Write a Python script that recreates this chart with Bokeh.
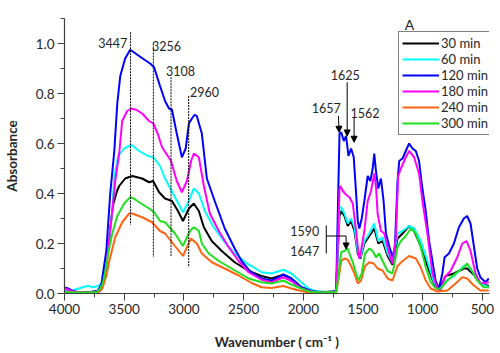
from bokeh.plotting import figure
from bokeh.models import (Range1d, FixedTicker, PrintfTickFormatter, Legend,
                          LegendItem, Label, Arrow, NormalHead)
from bokeh.embed import file_html
from bokeh.resources import INLINE

# ---------------- data ----------------
series_names = ["30 min", "60 min", "120 min", "180 min", "240 min", "300 min"]
series_colors = ["#000000", "#00FFFF", "#0000FF", "#FF00FF", "#FF6412", "#1EE01E"]

wn_30 = [4000, 3900, 3800, 3720, 3690, 3660, 3630, 3600, 3590, 3560, 3542, 3492, 3433,
         3350, 3292, 3258, 3208, 3158, 3100, 3050, 3008, 2958, 2917, 2875, 2833, 2767,
         2683, 2575, 2458, 2350, 2267, 2167, 2100, 2017, 1933, 1850, 1725, 1711, 1697,
         1683, 1656, 1628, 1600, 1572, 1544, 1522, 1489, 1447, 1406, 1372, 1336, 1294,
         1253, 1211, 1169, 1114, 1072, 1017, 961, 906, 864, 808, 739, 656, 628, 572,
         517, 447]
ab_30 = [0.008, 0.005, 0.005, 0.01, 0.03, 0.08, 0.2, 0.33, 0.36, 0.41, 0.43, 0.46, 0.47,
         0.46, 0.445, 0.45, 0.405, 0.38, 0.37, 0.33, 0.29, 0.34, 0.36, 0.33, 0.265, 0.21,
         0.17, 0.125, 0.09, 0.07, 0.06, 0.075, 0.06, 0.025, 0.008, 0.004, 0.01, 0.17, 0.31,
         0.33, 0.31, 0.27, 0.29, 0.25, 0.16, 0.14, 0.20, 0.23, 0.26, 0.20, 0.21, 0.15,
         0.115, 0.22, 0.24, 0.27, 0.25, 0.19, 0.11, 0.04, 0.015, 0.07, 0.08, 0.10, 0.10,
         0.075, 0.04, 0.03]

wn_60 = [4000, 3950, 3880, 3830, 3800, 3760, 3720, 3690, 3660, 3630, 3600, 3583, 3550,
         3500, 3440, 3375, 3300, 3256, 3200, 3158, 3075, 3008, 2960, 2917, 2875, 2825,
         2750, 2667, 2575, 2458, 2433, 2350, 2267, 2167, 2100, 2017, 1958, 1900, 1800,
         1725, 1711, 1697, 1683, 1656, 1628, 1600, 1572, 1544, 1522, 1489, 1447, 1406,
         1372, 1336, 1294, 1253, 1211, 1169, 1114, 1072, 1017, 961, 906, 864, 808, 739,
         656, 628, 572, 517, 447]
ab_60 = [0.012, 0.01, 0.02, 0.028, 0.03, 0.025, 0.03, 0.04, 0.08, 0.2, 0.33, 0.47, 0.55,
         0.58, 0.595, 0.57, 0.55, 0.545, 0.51, 0.46, 0.385, 0.325, 0.37, 0.42, 0.40, 0.33,
         0.265, 0.21, 0.16, 0.115, 0.11, 0.085, 0.08, 0.095, 0.08, 0.045, 0.02, 0.01, 0.006,
         0.01, 0.18, 0.345, 0.345, 0.32, 0.28, 0.30, 0.265, 0.17, 0.145, 0.21, 0.24, 0.28,
         0.21, 0.225, 0.16, 0.125, 0.24, 0.25, 0.27, 0.26, 0.21, 0.13, 0.045, 0.015, 0.05,
         0.07, 0.11, 0.115, 0.08, 0.04, 0.025]

wn_120 = [4000, 3970, 3930, 3880, 3800, 3720, 3690, 3650, 3617, 3583, 3558, 3533, 3492,
          3450, 3420, 3375, 3330, 3283, 3250, 3200, 3158, 3125, 3100, 3060, 3017, 2985,
          2958, 2933, 2910, 2892, 2850, 2808, 2742, 2658, 2575, 2517, 2458, 2433, 2350,
          2267, 2210, 2167, 2100, 2017, 1933, 1850, 1760, 1725, 1711, 1697, 1683, 1661,
          1642, 1622, 1600, 1578, 1558, 1544, 1531, 1511, 1489, 1461, 1439, 1419, 1406,
          1392, 1372, 1350, 1328, 1308, 1281, 1253, 1233, 1211, 1197, 1169, 1142, 1114,
          1086, 1058, 1031, 1003, 975, 947, 919, 892, 864, 836, 817, 781, 739, 697, 656,
          628, 600, 572, 544, 517, 475, 447]
ab_120 = [0.024, 0.02, 0.01, 0.005, 0.004, 0.01, 0.04, 0.17, 0.40, 0.57, 0.76, 0.87, 0.94,
          0.975, 0.965, 0.95, 0.935, 0.92, 0.905, 0.83, 0.77, 0.74, 0.735, 0.64, 0.545, 0.58,
          0.68, 0.70, 0.715, 0.71, 0.64, 0.46, 0.37, 0.26, 0.18, 0.13, 0.095, 0.085, 0.06,
          0.052, 0.065, 0.076, 0.06, 0.025, 0.01, 0.005, 0.005, 0.012, 0.33, 0.64, 0.645, 0.61,
          0.63, 0.55, 0.58, 0.545, 0.40, 0.29, 0.26, 0.30, 0.37, 0.47, 0.45, 0.50, 0.56,
          0.49, 0.42, 0.46, 0.37, 0.24, 0.19, 0.145, 0.19, 0.45, 0.53, 0.54, 0.57, 0.60,
          0.58, 0.57, 0.53, 0.42, 0.33, 0.21, 0.13, 0.05, 0.02, 0.08, 0.145, 0.16, 0.20, 0.265,
          0.30, 0.31, 0.28, 0.19, 0.10, 0.065, 0.045, 0.06]

wn_180 = [4000, 3970, 3930, 3850, 3750, 3700, 3660, 3630, 3600, 3575, 3542, 3517, 3475,
          3440, 3400, 3350, 3292, 3256, 3220, 3183, 3108, 3060, 3017, 2975, 2940, 2917,
          2875, 2833, 2783, 2708, 2625, 2542, 2458, 2350, 2267, 2167, 2100, 2017, 1933,
          1850, 1760, 1725, 1711, 1697, 1690, 1669, 1642, 1614, 1586, 1558, 1533, 1517,
          1489, 1461, 1433, 1406, 1392, 1378, 1350, 1322, 1281, 1253, 1225, 1206, 1183,
          1142, 1114, 1072, 1031, 1003, 961, 919, 878, 850, 817, 767, 711, 669, 633, 600,
          558, 517, 447]
ab_180 = [0.02, 0.015, 0.008, 0.004, 0.005, 0.01, 0.06, 0.2, 0.33, 0.45, 0.56, 0.69, 0.73,
          0.74, 0.735, 0.72, 0.69, 0.68, 0.64, 0.585, 0.53, 0.45, 0.405, 0.45, 0.53, 0.56,
          0.545, 0.43, 0.32, 0.25, 0.185, 0.13, 0.085, 0.055, 0.045, 0.065, 0.05, 0.02, 0.008,
          0.004, 0.004, 0.01, 0.2, 0.42, 0.43, 0.41, 0.395, 0.385, 0.36, 0.25, 0.14, 0.17,
          0.25, 0.37, 0.41, 0.48, 0.43, 0.32, 0.25, 0.24, 0.16, 0.12, 0.225, 0.47, 0.50,
          0.545, 0.57, 0.545, 0.48, 0.37, 0.24, 0.08, 0.02, 0.012, 0.065, 0.09, 0.145, 0.20,
          0.21, 0.17, 0.08, 0.04, 0.045]

wn_240 = [4000, 3800, 3720, 3683, 3650, 3625, 3575, 3517, 3458, 3433, 3350, 3267, 3200,
          3158, 3075, 3008, 2942, 2892, 2850, 2767, 2658, 2542, 2433, 2350, 2267, 2167,
          2100, 2017, 1950, 1850, 1725, 1704, 1683, 1656, 1628, 1600, 1572, 1544, 1517,
          1483, 1447, 1411, 1378, 1336, 1294, 1253, 1211, 1169, 1114, 1058, 1017, 975, 933,
          878, 794, 725, 669, 628, 572, 517, 447]
ab_240 = [0.004, 0.003, 0.004, 0.02, 0.07, 0.13, 0.225, 0.285, 0.32, 0.32, 0.305, 0.285,
          0.25, 0.24, 0.19, 0.15, 0.22, 0.20, 0.16, 0.125, 0.10, 0.072, 0.042, 0.025, 0.022,
          0.03, 0.02, 0.01, 0.004, 0.003, 0.004, 0.06, 0.13, 0.14, 0.135, 0.11, 0.08, 0.04,
          0.052, 0.11, 0.125, 0.12, 0.10, 0.092, 0.06, 0.052, 0.11, 0.13, 0.15, 0.14, 0.105,
          0.052, 0.02, 0.008, 0.012, 0.04, 0.065, 0.06, 0.032, 0.012, 0.012]

wn_300 = [4000, 3900, 3800, 3730, 3708, 3680, 3658, 3630, 3600, 3558, 3500, 3450, 3420,
          3375, 3292, 3250, 3200, 3158, 3075, 3008, 2950, 2917, 2875, 2850, 2792, 2708,
          2600, 2458, 2350, 2267, 2167, 2100, 2017, 1950, 1850, 1725, 1704, 1683, 1656,
          1628, 1614, 1586, 1558, 1539, 1511, 1483, 1447, 1419, 1392, 1364, 1336, 1294,
          1253, 1211, 1183, 1142, 1100, 1058, 1017, 975, 933, 892, 850, 794, 725, 656, 628,
          586, 544, 489, 447]
ab_300 = [0.005, 0.004, 0.004, 0.006, 0.015, 0.04, 0.09, 0.17, 0.24, 0.31, 0.36, 0.385,
          0.38, 0.365, 0.34, 0.325, 0.29, 0.285, 0.24, 0.19, 0.25, 0.265, 0.25, 0.20, 0.16,
          0.13, 0.10, 0.06, 0.045, 0.04, 0.052, 0.036, 0.02, 0.008, 0.004, 0.006, 0.08,
          0.165, 0.17, 0.18, 0.16, 0.125, 0.08, 0.052, 0.08, 0.16, 0.18, 0.17, 0.145, 0.16,
          0.13, 0.09, 0.08, 0.185, 0.21, 0.23, 0.26, 0.24, 0.185, 0.105, 0.045, 0.02, 0.02,
          0.052, 0.08, 0.105, 0.12, 0.09, 0.052, 0.025, 0.025]

x_ticks = [4000, 3500, 3000, 2500, 2000, 1500, 1000, 500]
y_ticks = [0.0, 0.2, 0.4, 0.6, 0.8, 1.0]

# peak markers with vertical dotted lines
peak_wn = [3447, 3256, 3108, 2960]
peak_top = [1.045, 1.0, 0.865, 0.79]
peak_bot = [0.275, 0.145, 0.15, 0.105]

FONT = "Lato"
TXT = "#262626"

p = figure(width=500, height=353, output_backend="svg", toolbar_location=None,
           x_range=Range1d(4000, 441), y_range=Range1d(0, 1.1),
           min_border_left=62, min_border_right=11, min_border_top=18,
           min_border_bottom=60)
p.xgrid.visible = False
p.ygrid.visible = False
p.outline_line_color = None
p.background_fill_color = "white"

wns = [wn_30, wn_60, wn_120, wn_180, wn_240, wn_300]
abs_ = [ab_30, ab_60, ab_120, ab_180, ab_240, ab_300]
renderers = []
for wn, ab, col in zip(wns, abs_, series_colors):
    r = p.line(wn, ab, line_color=col, line_width=2)
    renderers.append(r)

# dotted peak lines
p.segment(x0=peak_wn, y0=peak_top, x1=peak_wn, y1=peak_bot,
          line_color="black", line_width=1, line_dash="2 1")

def lab(x, y, t, align="left"):
    p.add_layout(Label(x=x, y=y, text=t, text_font=FONT, text_font_size="12.5px",
                       text_color=TXT, text_align=align, text_baseline="middle"))

lab(3475, 1.004, str(peak_wn[0]), "right")
lab(3267, 0.992, str(peak_wn[1]))
lab(3150, 0.892, str(peak_wn[2]))
lab(2950, 0.808, str(peak_wn[3]))

# arrow annotations
lab(1650, 0.876, "1625", "center")
lab(1808, 0.744, "1657", "center")
lab(1483, 0.724, "1562", "center")
lab(1867, 0.252, "1590", "right")
lab(1867, 0.172, "1647", "right")

def arr(x0, y0, x1, y1):
    p.add_layout(Arrow(end=NormalHead(size=6, fill_color="black", line_color="black"),
                       x_start=x0, y_start=y0, x_end=x1, y_end=y1,
                       line_color="black", line_width=1))

arr(1706, 0.71, 1700, 0.645)
arr(1633, 0.845, 1633, 0.63)
arr(1575, 0.705, 1575, 0.605)
arr(1642, 0.23, 1642, 0.178)
p.segment(x0=[1808, 1808], y0=[0.272, 0.23], x1=[1808, 1642], y1=[0.16, 0.23],
          line_color="black", line_width=1)

p.add_layout(Label(x=1150, y=1.076, text="A", text_font=FONT, text_font_size="14px",
                   text_color=TXT, text_align="left", text_baseline="middle"))

# axes
xa = p.xaxis[0]
xa.ticker = FixedTicker(ticks=x_ticks, minor_ticks=[3750, 3250, 2750, 2250, 1750, 1250, 750])
xa.axis_label = "Wavenumber ( cm\u207b\u00b9 )"
ya = p.yaxis[0]
ya.ticker = FixedTicker(ticks=y_ticks, minor_ticks=[0.1, 0.3, 0.5, 0.7, 0.9, 1.1])
ya.formatter = PrintfTickFormatter(format="%.1f")
ya.axis_label = "Absorbance"
for ax in (xa, ya):
    ax.axis_line_color = "#404040"
    ax.axis_line_width = 1.2
    ax.major_tick_line_color = "#404040"
    ax.minor_tick_line_color = "#404040"
    ax.major_tick_in = 0
    ax.major_tick_out = 7
    ax.minor_tick_in = 0
    ax.minor_tick_out = 4
    ax.major_label_text_font = FONT
    ax.major_label_text_font_size = "13.5px"
    ax.major_label_text_color = TXT
    ax.axis_label_text_font = FONT
    ax.axis_label_text_font_size = "13.5px"
    ax.axis_label_text_font_style = "bold"
    ax.axis_label_text_color = TXT
    ax.major_label_standoff = 3
xa.axis_label_standoff = 17
ya.axis_label_standoff = 13

legend = Legend(items=[LegendItem(label=n, renderers=[r]) for n, r in zip(series_names, renderers)],
                location=(334, 158))
legend.border_line_color = "black"
legend.border_line_width = 1
legend.padding = 3
legend.spacing = 0
legend.margin = 0
legend.glyph_width = 37
legend.glyph_height = 16
legend.label_height = 16
legend.label_standoff = 2
legend.label_text_font = FONT
legend.label_text_font_size = "13px"
legend.label_text_line_height = 1.0
legend.label_text_color = TXT
legend.background_fill_alpha = 1
p.add_layout(legend)

open("out.html", "w").write(file_html(p, INLINE))
